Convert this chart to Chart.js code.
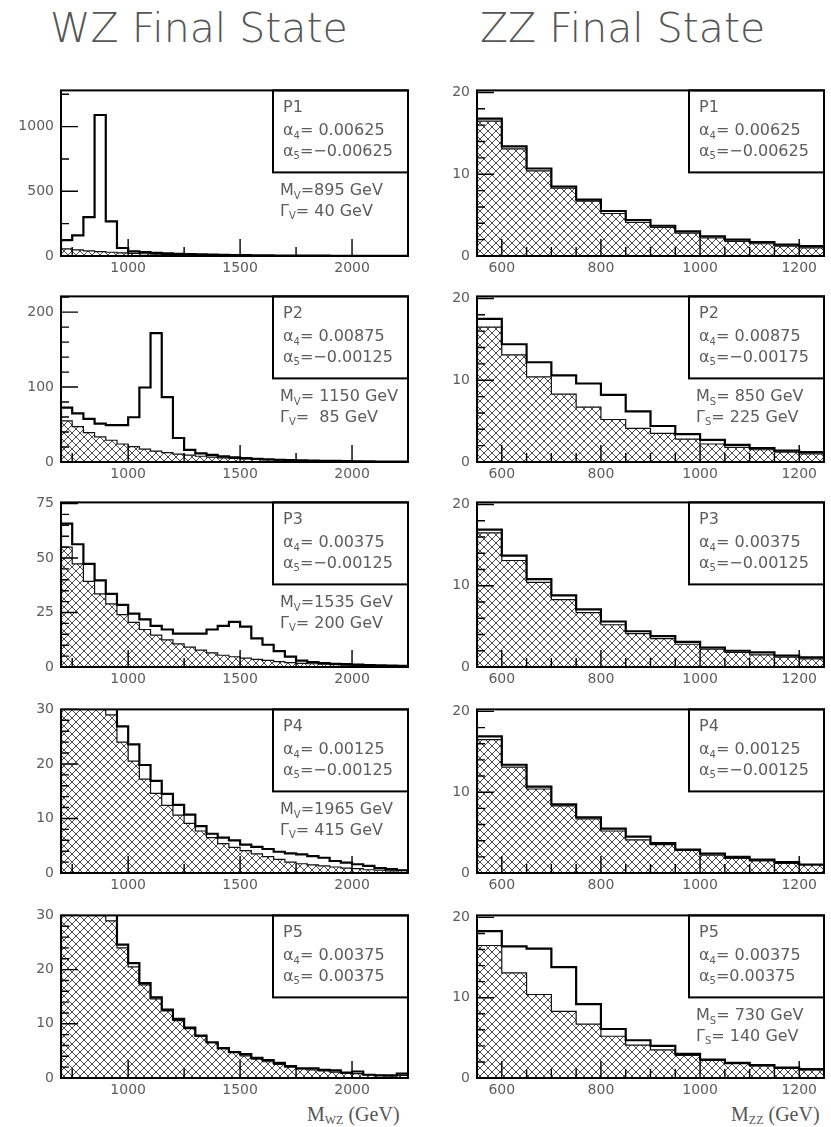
<!DOCTYPE html>
<html>
<head>
<meta charset="utf-8">
<title>WZ / ZZ final state</title>
<script src="https://cdn.jsdelivr.net/npm/chart.js@4.4.1/dist/chart.umd.min.js"></script>
<style>
  html, body { margin: 0; background: #fff; }
  body { position: relative; width: 831px; height: 1127px; overflow: hidden; }
  canvas { position: absolute; }
  .title { position: absolute; top: 8px; font: 200 41px/41px "DejaVu Sans", sans-serif; color: #555; white-space: nowrap; }
  .xtitle { position: absolute; top: 1102px; font: 20px/24px "Liberation Serif", serif; color: #555; white-space: nowrap; }
  .xtitle sub { font-size: 12px; vertical-align: -3px; }
</style>
</head>
<body>
<div class="title" style="left:50px">WZ Final State</div>
<div class="title" style="left:480px">ZZ Final State</div>
<div class="xtitle" style="left:307px">M<sub>WZ</sub> (GeV)</div>
<div class="xtitle" style="left:731px">M<sub>ZZ</sub> (GeV)</div>

<script>
// ── Binning (lower bin edges, GeV) ─────────────────────────

const wzBins = [700, 750, 800, 850, 900, 950, 1000, 1050, 1100, 1150, 1200, 1250, 1300, 1350, 1400,
                1450, 1500, 1550, 1600, 1650, 1700, 1750, 1800, 1850, 1900, 1950, 2000, 2050, 2100, 2150, 2200];
const wzUpper = 2250;
const zzBins = [550, 600, 650, 700, 750, 800, 850, 900, 950, 1000, 1050, 1100, 1150, 1200];
const zzUpper = 1250;

// ── Events per bin ─────────────────────────────────────────

// SM background (hatched), same in every WZ panel
const wzBackground = [55, 47.3, 39.3, 33.5, 29.0, 24.0, 20.5, 17.2, 14.6, 12.4, 10.6, 9.1, 7.7, 6.5, 5.4,
                      4.7, 4.1, 3.5, 3.0, 2.5, 2.0, 1.7, 1.5, 1.3, 1.1, 0.9, 0.8, 0.6, 0.5, 0.4, 0.5];
const wzP1 = [123, 160, 300, 1090, 268, 62, 35, 30, 24, 20, 17, 14, 12, 10, 8,
              7, 6, 5, 4.5, 4, 3.5, 3, 2.5, 2.2, 2, 1.7, 1.5, 1.2, 1, 0.8, 0.7];
const wzP2 = [72.5, 64.8, 57.6, 51.2, 49.1, 49.1, 59.7, 99.4, 172, 86.6, 32, 16.2, 11.5, 9.4, 7.6,
              6.3, 5.2, 4.3, 3.6, 3.0, 2.5, 2.1, 1.8, 1.6, 1.4, 1.2, 1.0, 0.8, 0.7, 0.6, 0.6];
const wzP3 = [65.8, 56.3, 47.3, 39.7, 33.5, 28.5, 24.5, 21.8, 18.9, 17.2, 15.3, 15.3, 15.3, 17.2, 18.9,
              20.7, 18.5, 13.1, 10.2, 7.3, 4.8, 2.9, 2.2, 1.8, 1.5, 1.3, 1.1, 0.9, 0.7, 0.6, 0.5];
const wzP4 = [58, 50, 42, 36, 31, 26.9, 23.6, 19.8, 16.9, 14.5, 12.5, 10.7, 8.6, 7.2, 6.5,
              6.0, 5.2, 4.8, 4.4, 3.9, 3.6, 3.4, 3.1, 2.8, 2.2, 1.9, 1.6, 1.3, 0.9, 0.7, 0.5];
const wzP5 = [57, 49, 41.5, 35, 30.2, 24.6, 21.2, 17.5, 14.9, 12.6, 10.9, 9.3, 7.8, 6.6, 5.5,
              4.8, 4.4, 3.7, 3.3, 2.8, 2.2, 1.8, 1.8, 1.5, 1.4, 1.0, 1.2, 0.6, 0.5, 0.5, 0.8];

// SM background (hatched), same in every ZZ panel
const zzBackground = [16.5, 13.1, 10.4, 8.3, 6.7, 5.2, 4.1, 3.5, 2.8, 2.2, 1.8, 1.5, 1.2, 1.0];
const zzP1 = [16.8, 13.4, 10.7, 8.5, 6.9, 5.5, 4.4, 3.7, 3.0, 2.4, 2.0, 1.7, 1.4, 1.2];
const zzP2 = [17.5, 14.4, 12.2, 10.6, 9.6, 8.2, 6.2, 4.4, 3.4, 2.7, 2.1, 1.7, 1.4, 1.2];
const zzP3 = [16.9, 13.7, 10.8, 8.8, 7.1, 5.6, 4.4, 3.8, 3.1, 2.4, 2.0, 1.8, 1.4, 1.2];
const zzP4 = [16.9, 13.4, 10.7, 8.5, 6.9, 5.5, 4.5, 3.7, 2.9, 2.4, 2.0, 1.65, 1.35, 1.05];
const zzP5 = [18.3, 16.4, 16.1, 13.8, 9.2, 6.1, 4.7, 4.0, 3.0, 2.3, 1.9, 1.6, 1.3, 1.1];

// ── Axes ───────────────────────────────────────────────────

const wzXTicks = [1000, 1500, 2000];
const wzXMinor = [750, 1250, 1750];
const zzXTicks = [600, 800, 1000, 1200];
const zzXMinor = [650, 700, 750, 850, 900, 950, 1050, 1100, 1150];

const wzYMax = [1280, 221, 75.5, 30, 30];
const wzYTicks = [[0, 500, 1000], [0, 100, 200], [0, 25, 50, 75], [0, 10, 20, 30], [0, 10, 20, 30]];
const wzYMinorStep = [250, 20, 5, 2, 2];
const zzYMax = [20.25, 20.25, 20.25, 20.25, 20.25];
const zzYTicks = [[0, 10, 20], [0, 10, 20], [0, 10, 20], [0, 10, 20], [0, 10, 20]];
const zzYMinorStep = [2, 2, 2, 2, 2];

// ── Panel labels ───────────────────────────────────────────

const panelNames = ['P1', 'P2', 'P3', 'P4', 'P5'];
const wzAlpha4 = ['= 0.00625', '= 0.00875', '= 0.00375', '= 0.00125', '= 0.00375'];
const wzAlpha5 = ['=\u22120.00625', '=\u22120.00125', '=\u22120.00125', '=\u22120.00125', '= 0.00375'];
const zzAlpha4 = ['= 0.00625', '= 0.00875', '= 0.00375', '= 0.00125', '= 0.00375'];
const zzAlpha5 = ['=\u22120.00625', '=\u22120.00175', '=\u22120.00125', '=\u22120.00125', '=0.00375'];
const wzMass = ['=895 GeV', '= 1150 GeV', '=1535 GeV', '=1965 GeV', null];
const wzWidth = ['= 40 GeV', '=  85 GeV', '= 200 GeV', '= 415 GeV', null];
const zzMass = [null, '= 850 GeV', null, null, '= 730 GeV'];
const zzWidth = [null, '= 225 GeV', null, null, '= 140 GeV'];

const wzTotals = [wzP1, wzP2, wzP3, wzP4, wzP5];
const zzTotals = [zzP1, zzP2, zzP3, zzP4, zzP5];

// ── Layout ─────────────────────────────────────────────────

const rowTops = [83, 289, 495, 702, 908];
const rowHeights = [173, 173, 172, 171, 170];
const PAD_TOP = 8;
const XAXIS_H = 24;
const YAXIS_W = 61;
const TEXT_COLOR = '#5c5c5c';
const TICK_FONT = { family: 'DejaVu Sans', size: 14 };

function histPoints(edges, upper, counts) {
    const pts = [{ x: edges[0], y: 0 }];
    counts.forEach((c, i) => pts.push({ x: edges[i], y: c }));
    pts.push({ x: upper, y: counts[counts.length - 1] });
    pts.push({ x: upper, y: 0 });
    return pts;
}

function makeHatch(ctx) {
    const tile = document.createElement('canvas');
    tile.width = tile.height = 8;
    const g = tile.getContext('2d');
    g.fillStyle = '#fff';
    g.fillRect(0, 0, 8, 8);
    g.strokeStyle = '#4a4a4a';
    g.lineWidth = 1;
    g.beginPath();
    g.moveTo(-1, -1); g.lineTo(9, 9);
    g.moveTo(-1, 9); g.lineTo(9, -1);
    g.stroke();
    return ctx.createPattern(tile, 'repeat');
}

// text with subscripts: parts = [[text, isSub], ...]
function drawRich(ctx, x, y, parts, size) {
    parts.forEach(([text, sub]) => {
        const s = sub ? Math.round(size * 0.62) : size;
        ctx.font = `${s}px "DejaVu Sans", sans-serif`;
        ctx.fillText(text, x, sub ? y + size * 0.22 : y);
        x += ctx.measureText(text).width;
    });
}

// frame, inward ticks and the parameter box
const panelDecor = {
    id: 'panelDecor',
    afterDatasetsDraw(chart, args, o) {
        const { ctx, chartArea: a, scales: { x, y } } = chart;
        ctx.save();
        ctx.strokeStyle = '#000';
        ctx.lineWidth = 1.4;
        ctx.beginPath();
        o.xMajor.forEach(v => {
            const px = x.getPixelForValue(v);
            ctx.moveTo(px, a.bottom); ctx.lineTo(px, a.bottom - 17);
        });
        o.xMinor.forEach(v => {
            const px = x.getPixelForValue(v);
            ctx.moveTo(px, a.bottom); ctx.lineTo(px, a.bottom - 9);
        });
        o.yMajor.forEach(v => {
            const py = y.getPixelForValue(v);
            ctx.moveTo(a.left, py); ctx.lineTo(a.left + 17, py);
        });
        for (let v = 0; v <= y.max; v += o.yMinorStep) {
            if (o.yMajor.includes(v)) continue;
            const py = y.getPixelForValue(v);
            ctx.moveTo(a.left, py); ctx.lineTo(a.left + 8, py);
        }
        ctx.stroke();

        // parameter box
        const bw = 135, bh = 82;
        const bx = a.right - bw;
        ctx.fillStyle = '#fff';
        ctx.fillRect(bx, a.top, bw, bh);
        ctx.lineWidth = 2;
        ctx.strokeRect(bx, a.top, bw, bh);

        ctx.fillStyle = TEXT_COLOR;
        ctx.textAlign = 'left';
        ctx.textBaseline = 'alphabetic';
        const tx = bx + 10;
        drawRich(ctx, tx, a.top + 22, [[o.name]], 16);
        drawRich(ctx, tx, a.top + 45, [['\u03b1'], ['4', true], [o.a4]], 16);
        drawRich(ctx, tx, a.top + 65.5, [['\u03b1'], ['5', true], [o.a5]], 16);
        if (o.mass) {
            drawRich(ctx, bx + 7, a.top + 105, [['M'], [o.res, true], [o.mass]], 16);
            drawRich(ctx, bx + 7, a.top + 125.5, [['\u0393'], [o.res, true], [o.width]], 16);
        }

        ctx.lineWidth = 2;
        ctx.strokeRect(a.left, a.top, a.width, a.height);
        ctx.restore();
    }
};

function makePanel(p) {
    const canvas = document.createElement('canvas');
    const h = PAD_TOP + p.plotH + XAXIS_H;
    canvas.width = p.width;
    canvas.height = h;
    canvas.style.left = p.left + 'px';
    canvas.style.top = (p.top - PAD_TOP) + 'px';
    canvas.style.width = p.width + 'px';
    canvas.style.height = h + 'px';
    document.body.appendChild(canvas);
    const ctx = canvas.getContext('2d');

    new Chart(ctx, {
        type: 'line',
        data: {
            datasets: [
                {
                    data: histPoints(p.bins, p.upper, p.total),
                    stepped: 'before',
                    borderColor: '#000',
                    borderWidth: 2.2,
                    pointRadius: 0,
                    fill: false,
                    order: 1
                },
                {
                    data: histPoints(p.bins, p.upper, p.background),
                    stepped: 'before',
                    borderColor: '#111',
                    borderWidth: 1.2,
                    pointRadius: 0,
                    fill: 'origin',
                    backgroundColor: makeHatch(ctx),
                    order: 2
                }
            ]
        },
        options: {
            responsive: false,
            animation: false,
            events: [],
            layout: { autoPadding: false, padding: { top: PAD_TOP, right: p.padRight, left: 0, bottom: 0 } },
            plugins: {
                legend: { display: false },
                tooltip: { enabled: false },
                panelDecor: p.decor
            },
            scales: {
                x: {
                    type: 'linear',
                    min: p.bins[0],
                    max: p.upper,
                    grid: { display: false, drawTicks: false },
                    border: { display: false },
                    ticks: { font: TICK_FONT, color: TEXT_COLOR, padding: 4, maxRotation: 0, autoSkip: false, callback: v => v },
                    afterBuildTicks: s => { s.ticks = p.xTicks.map(v => ({ value: v })); },
                    afterFit: s => { s.height = XAXIS_H; }
                },
                y: {
                    min: 0,
                    max: p.yMax,
                    grid: { display: false, drawTicks: false },
                    border: { display: false },
                    ticks: { font: TICK_FONT, color: TEXT_COLOR, padding: 7, autoSkip: false, callback: v => v },
                    afterBuildTicks: s => { s.ticks = p.yTicks.map(v => ({ value: v })); },
                    afterFit: s => { s.width = YAXIS_W; }
                }
            }
        },
        plugins: [panelDecor]
    });
}

rowTops.forEach((top, i) => {
    makePanel({
        left: 0, width: 420, padRight: 12, top, plotH: rowHeights[i],
        bins: wzBins, upper: wzUpper, total: wzTotals[i], background: wzBackground,
        yMax: wzYMax[i], yTicks: wzYTicks[i], xTicks: wzXTicks,
        decor: {
            xMajor: wzXTicks, xMinor: wzXMinor, yMajor: wzYTicks[i], yMinorStep: wzYMinorStep[i],
            name: panelNames[i], a4: wzAlpha4[i], a5: wzAlpha5[i],
            res: 'V', mass: wzMass[i], width: wzWidth[i]
        }
    });
    makePanel({
        left: 416, width: 415, padRight: 7, top, plotH: rowHeights[i],
        bins: zzBins, upper: zzUpper, total: zzTotals[i], background: zzBackground,
        yMax: zzYMax[i], yTicks: zzYTicks[i], xTicks: zzXTicks,
        decor: {
            xMajor: zzXTicks, xMinor: zzXMinor, yMajor: zzYTicks[i], yMinorStep: zzYMinorStep[i],
            name: panelNames[i], a4: zzAlpha4[i], a5: zzAlpha5[i],
            res: 'S', mass: zzMass[i], width: zzWidth[i]
        }
    });
});
</script>
</body>
</html>
